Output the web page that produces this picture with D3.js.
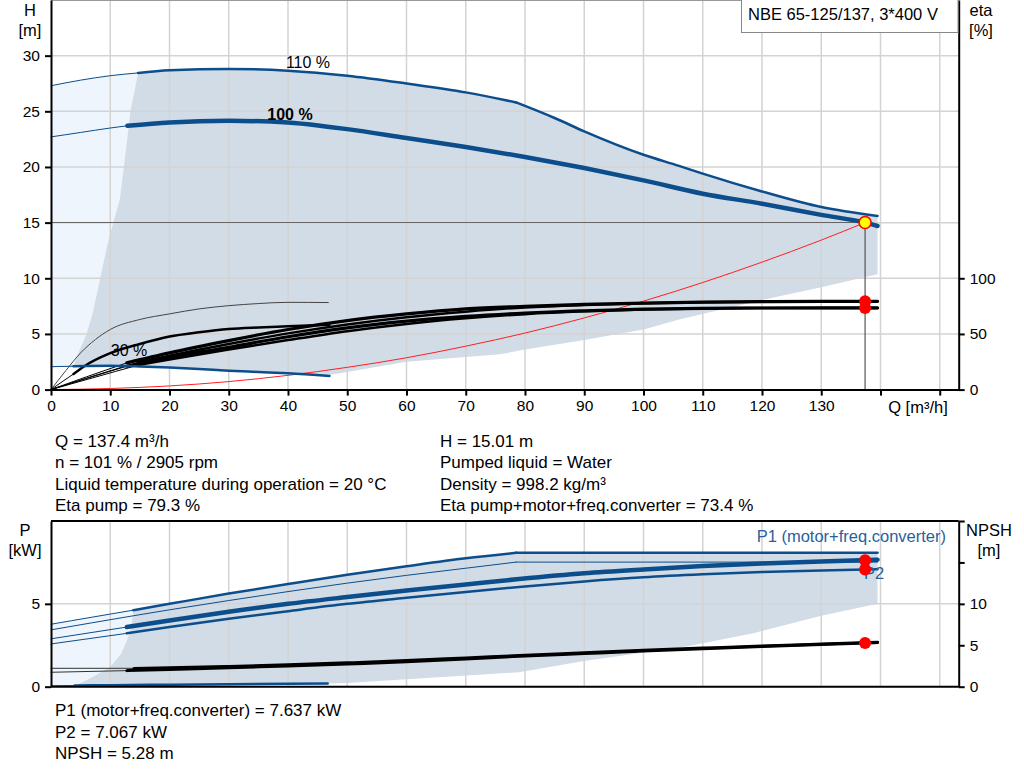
<!DOCTYPE html>
<html>
<head>
<meta charset="utf-8">
<script src="https://cdn.jsdelivr.net/npm/d3@7"></script>
<style>
body { margin: 0; background: #fff; }
svg text { font-family: "Liberation Sans", Arial, sans-serif; font-size: 16.5px; fill: #000; }
svg .tick text { font-size: 15.5px; }
svg .info { font-size: 17px; }
</style>
</head>
<body>
<div id="chart"></div>
<script>
// ticks
var qTicks = [0, 10, 20, 30, 40, 50, 60, 70, 80, 90, 100, 110, 120, 130, 140, 150];
var hTicks = [0, 5, 10, 15, 20, 25, 30];
var etaTicks = [0, 50, 100];
var pTicks = [0, 5];
var npshTicks = [0, 5, 10, 15, 20];

// H curves [Q, H]
var h110Thin = [[0, 27.3], [5, 27.8], [10, 28.2], [14.7, 28.45]];
var h110 = [[14.7, 28.45], [20, 28.7], [30, 28.8], [40, 28.65], [50, 28.2], [60, 27.5], [70, 26.7], [78.5, 25.8]];
var h110Limit = [[78.5, 25.8], [85, 24.4], [90, 23.2], [100, 21.1], [106, 20.1], [110, 19.4], [120, 17.8], [130, 16.4], [139.5, 15.6]];
var h100Thin = [[0, 22.7], [5, 23.1], [10, 23.5], [12.9, 23.7]];
var h100 = [[12.9, 23.7], [20, 24.0], [30, 24.15], [40, 24.0], [47, 23.6], [50, 23.4], [60, 22.6], [70, 21.8], [80, 20.9], [90, 19.9], [100, 18.8], [110, 17.6], [120, 16.7], [130, 15.7], [137.4, 15.0], [139.5, 14.7]];
var h30Thin = [[0, 2.06], [3.8, 2.1]];
var h30 = [[3.8, 2.1], [10, 2.14], [15, 2.08], [20, 1.98], [25, 1.85], [30, 1.7], [35, 1.58], [40, 1.46], [47, 1.22]];
var shadeLeftH = [[3.8, 2.1], [5, 3.8], [6, 5], [7, 6.8], [8.3, 10], [9.5, 13], [10.5, 15], [11.6, 17.1], [12.3, 20], [13.4, 25], [14.7, 28.45]];
var shadeLowerH = [[139.5, 10.36], [130, 9.2], [120, 8.05], [106, 6.3], [100, 5.4], [90, 4.46], [80, 3.6], [75.8, 3.17], [60, 2.5], [47, 1.31]];
var sysCurve = [[0, 0], [10, 0.1], [20, 0.33], [30, 0.72], [40, 1.28], [50, 2.0], [60, 2.86], [70, 3.9], [80, 5.08], [90, 6.44], [100, 7.95], [110, 9.62], [120, 11.45], [130, 13.43], [137.4, 15.01]];

// eta curves [Q, eta]
var eta30PumpThin = [[0, 0], [2.5, 17], [5, 33], [7.5, 45], [10, 54], [15, 63], [20, 68], [25, 72.5], [30, 75.4], [35, 77.3], [40, 78.4], [46.8, 78.2]];
var eta30Thin = [[0, 0], [2, 7.5], [3.8, 14]];
var eta30 = [[3.8, 14], [5.5, 20.6], [10, 32.7], [15, 41], [20, 47.7], [25, 51.5], [30, 54.4], [35, 55.8], [40, 56.8], [47, 58.2]];
var etaPump100Thin = [[0, 0], [6, 11.5], [12.8, 24]];
var etaPump100 = [[12.8, 24], [20, 33], [30, 44], [40, 54], [50, 62], [60, 68], [70, 72.5], [80, 74.8], [90, 76.5], [100, 77.7], [110, 78.5], [120, 79], [130, 79.3], [139.5, 79.3]];
var etaTot100Thin = [[0, 0], [6, 10], [12.8, 21]];
var etaTot100 = [[12.8, 21], [20, 29], [30, 38], [40, 47.5], [50, 55.5], [60, 61.5], [70, 65.8], [80, 68.8], [90, 70.8], [100, 72.3], [110, 73], [120, 73.3], [130, 73.4], [139.5, 73.4]];
var etaPump110Thin = [[0, 0], [7, 12], [14.7, 24.5]];
var etaPump110 = [[14.7, 24.5], [20, 30.5], [30, 41], [40, 50.5], [50, 58.5], [60, 65], [70, 70], [80, 73.8], [90, 76], [100, 77.5], [110, 78.4], [120, 79], [130, 79.3], [139.5, 79.3]];
var etaTot110Thin = [[0, 0], [7, 10.5], [14.7, 22]];
var etaTot110 = [[14.7, 22], [20, 27], [30, 36], [40, 44.5], [50, 52.5], [60, 59], [70, 64], [80, 67.8], [90, 70.3], [100, 72], [110, 72.9], [120, 73.3], [130, 73.4], [139.5, 73.4]];

// power curves [Q, P kW]
var p1_110Thin = [[0, 3.77], [7, 4.2], [13.9, 4.62]];
var p1_110 = [[13.9, 4.62], [20, 5.0], [30, 5.62], [40, 6.2], [50, 6.76], [60, 7.27], [70, 7.75], [78.5, 8.08]];
var p1_110Limit = [[78.5, 8.08], [139.5, 8.08]];
var p2_110Thin = [[0, 3.43], [13.9, 4.28], [20, 4.64], [30, 5.2], [40, 5.74], [50, 6.25], [60, 6.72], [70, 7.15], [78.5, 7.52]];
var p2_110Limit = [[78.5, 7.52], [139.5, 7.52]];
var p1_100Thin = [[0, 2.89], [12.8, 3.6]];
var p1_100 = [[12.8, 3.6], [20, 4.0], [30, 4.52], [40, 5.0], [50, 5.41], [60, 5.8], [70, 6.17], [79, 6.5], [90, 6.85], [100, 7.08], [110, 7.28], [120, 7.44], [130, 7.56], [139.5, 7.66]];
var p2_100Thin = [[0, 2.58], [12.8, 3.22]];
var p2_100 = [[12.8, 3.22], [20, 3.6], [30, 4.1], [40, 4.56], [50, 5.0], [60, 5.37], [70, 5.72], [79, 6.02], [90, 6.35], [100, 6.6], [110, 6.78], [120, 6.92], [130, 7.02], [139.5, 7.09]];
var p30Thin = [[0, 0.06], [4, 0.07]];
var p30 = [[4, 0.07], [10, 0.09], [20, 0.12], [30, 0.15], [40, 0.18], [46.7, 0.2]];
var shadeLeftP = [[4.3, 0.08], [7.1, 0.6], [10, 1.21], [11.9, 2.02], [13.3, 3.23], [13.7, 4.0], [13.9, 4.62]];
var shadeLowerP = [[139.5, 5.0], [130, 4.28], [118.5, 3.23], [107.3, 2.42], [90, 1.55], [79, 0.87], [60, 0.45], [50, 0.22], [46.7, 0.2]];

// NPSH curves [Q, m]
var npsh100Thin = [[0, 1.74], [12.8, 1.94]];
var npsh100 = [[12.8, 1.94], [20, 2.08], [30, 2.3], [40, 2.5], [50, 2.74], [60, 3.0], [70, 3.35], [80, 3.7], [90, 4.0], [100, 4.3], [110, 4.58], [120, 4.85], [130, 5.1], [139.5, 5.32]];
var npsh110Thin = [[0, 2.22], [14, 2.22]];
var npsh110 = [[14, 2.2], [20, 2.28], [30, 2.45], [40, 2.64], [50, 2.88], [60, 3.15], [70, 3.47], [80, 3.8], [90, 4.1], [100, 4.4], [110, 4.66], [120, 4.92], [130, 5.15], [139.5, 5.36]];

// operating point
var opQ = 137.4, opH = 15.01, opEtaPump = 79.3, opEtaTot = 73.4, opP1 = 7.637, opP2 = 7.067, opNpsh = 5.28;

var infoLeft = ["Q = 137.4 m³/h", "n = 101 % / 2905 rpm", "Liquid temperature during operation = 20 °C", "Eta pump = 79.3 %"];
var infoRight = ["H = 15.01 m", "Pumped liquid = Water", "Density = 998.2 kg/m³", "Eta pump+motor+freq.converter = 73.4 %"];
var infoBottom = ["P1 (motor+freq.converter) = 7.637 kW", "P2 = 7.067 kW", "NPSH = 5.28 m"];

(function() {
  var svg, x, yH, yEta, yP, yN, top, bot, blue, dark, light, grid, line, drawLine, drawAxis;

  blue = '#0c4d8c';
  dark = '#d1dce7';
  light = '#eef5fc';
  grid = '#d3d3d3';

  svg = d3.select('#chart').append('svg').attr('width', 1024).attr('height', 781);

  x = d3.scaleLinear().domain([0, 153.2]).range([51, 958.7]);
  yH = d3.scaleLinear().domain([0, 35]).range([389.6, 0]);
  yEta = d3.scaleLinear().domain([0, 350]).range([389.6, 0]);
  yP = d3.scaleLinear().domain([0, 10]).range([686.7, 521]);
  yN = d3.scaleLinear().domain([0, 20]).range([686.7, 521]);

  top = svg.append('g');
  bot = svg.append('g');

  line = function(ys, curve) {
    return d3.line().x(function(d) { return x(d[0]); }).y(function(d) { return ys(d[1]); }).curve(curve || d3.curveMonotoneX);
  };

  drawLine = function(g, data, ys, color, width, curve) {
    return g.append('path').datum(data).attr('d', line(ys, curve)).attr('fill', 'none')
      .attr('stroke', color).attr('stroke-width', width).attr('stroke-linecap', 'round').attr('stroke-linejoin', 'round');
  };

  // ---- top chart fills
  top.append('path').datum(h110Thin.concat(shadeLeftH.slice().reverse(), h30Thin.slice().reverse()))
    .attr('d', line(yH, d3.curveLinear)).attr('fill', light);
  top.append('path').datum(h110.concat(h110Limit, shadeLowerH, h30.slice().reverse(), shadeLeftH))
    .attr('d', line(yH, d3.curveLinear)).attr('fill', dark);

  // grid
  qTicks.slice(1).forEach(function(q) {
    top.append('line').attr('x1', x(q)).attr('x2', x(q)).attr('y1', 0).attr('y2', 389.6).attr('stroke', grid).attr('stroke-width', 1.5);
    bot.append('line').attr('x1', x(q)).attr('x2', x(q)).attr('y1', 521).attr('y2', 686.7).attr('stroke', grid).attr('stroke-width', 1.5);
  });
  hTicks.slice(1).forEach(function(h) {
    top.append('line').attr('x1', 51).attr('x2', 958.7).attr('y1', yH(h)).attr('y2', yH(h)).attr('stroke', grid).attr('stroke-width', 1.5);
  });
  top.append('line').attr('x1', 51).attr('x2', 958.7).attr('y1', 0.5).attr('y2', 0.5).attr('stroke', '#999');

  // operating lines
  top.append('line').attr('x1', x(0)).attr('x2', x(opQ)).attr('y1', yH(opH)).attr('y2', yH(opH)).attr('stroke', '#666').attr('stroke-width', 1.2);
  top.append('line').attr('x1', x(opQ)).attr('x2', x(opQ)).attr('y1', yH(opH)).attr('y2', yH(0)).attr('stroke', '#555').attr('stroke-width', 1.2);

  // system curve
  drawLine(top, sysCurve, yH, '#ff2020', 1);

  // eta curves
  drawLine(top, eta30PumpThin, yEta, '#444', 1);
  drawLine(top, eta30Thin, yEta, '#000', 1);
  drawLine(top, eta30, yEta, '#000', 2.5);
  drawLine(top, etaPump110Thin, yEta, '#000', 1);
  drawLine(top, etaTot110Thin, yEta, '#000', 1);
  drawLine(top, etaPump100Thin, yEta, '#000', 1);
  drawLine(top, etaTot100Thin, yEta, '#000', 1);
  drawLine(top, etaPump110, yEta, '#000', 2.5);
  drawLine(top, etaTot110, yEta, '#000', 2.5);
  drawLine(top, etaPump100, yEta, '#000', 3.2);
  drawLine(top, etaTot100, yEta, '#000', 3.2);

  // H curves
  drawLine(top, h30Thin, yH, blue, 1);
  drawLine(top, h30, yH, blue, 2.5);
  drawLine(top, h110Thin, yH, blue, 1);
  drawLine(top, h110, yH, blue, 2.5);
  drawLine(top, h110Limit, yH, blue, 2.5);
  drawLine(top, h100Thin, yH, blue, 1);
  drawLine(top, h100, yH, blue, 4.5);

  // curve labels
  top.append('text').attr('x', 308).attr('y', 67.5).attr('text-anchor', 'middle').style('font-size', '16px').text('110 %');
  top.append('text').attr('x', 290).attr('y', 119.5).attr('text-anchor', 'middle').style('font-size', '16px').style('font-weight', 'bold').text('100 %');
  top.append('text').attr('x', 129).attr('y', 355.5).attr('text-anchor', 'middle').style('font-size', '16px').text('30 %');

  // operating markers
  [opEtaPump, opEtaTot].forEach(function(v) {
    top.append('circle').attr('cx', x(opQ)).attr('cy', yEta(v)).attr('r', 6).attr('fill', '#ff0000');
  });
  top.append('circle').attr('cx', x(opQ)).attr('cy', yH(opH)).attr('r', 6).attr('fill', '#ffff00').attr('stroke', '#ff0000').attr('stroke-width', 1.6);

  // axes
  drawAxis = function(g, axis, tx, ty) {
    var a = g.append('g').attr('transform', 'translate(' + tx + ',' + ty + ')').call(axis);
    a.attr('font-size', null).attr('font-family', null);
    a.select('.domain').attr('stroke', '#000').attr('stroke-width', 2);
    a.selectAll('.tick line').attr('stroke', '#000').attr('stroke-width', 2);
    return a;
  };
  drawAxis(top, d3.axisLeft(yH).tickValues(hTicks).tickSize(6).tickSizeOuter(0).tickPadding(5), 51, 0);
  drawAxis(top, d3.axisRight(yEta).tickValues(etaTicks).tickSize(6).tickSizeOuter(0).tickPadding(5), 958.7, 0);
  drawAxis(top, d3.axisBottom(x).tickValues(qTicks).tickSize(6).tickSizeOuter(0).tickPadding(4)
    .tickFormat(function(d) { return d > 130 ? '' : d; }), 0, 389.6);

  top.append('text').attr('x', 30).attr('y', 15.5).attr('text-anchor', 'middle').text('H');
  top.append('text').attr('x', 30).attr('y', 35.5).attr('text-anchor', 'middle').text('[m]');
  top.append('text').attr('x', 981).attr('y', 15.5).attr('text-anchor', 'middle').text('eta');
  top.append('text').attr('x', 981).attr('y', 35.5).attr('text-anchor', 'middle').text('[%]');
  top.append('text').attr('x', 918).attr('y', 412.5).attr('text-anchor', 'middle').text('Q [m³/h]');

  // title box
  top.append('rect').attr('x', 741.5).attr('y', -1).attr('width', 216.5).attr('height', 33.5).attr('fill', '#fff').attr('stroke', '#888');
  top.append('text').attr('x', 748).attr('y', 19.5).text('NBE 65-125/137, 3*400 V');

  // info text
  infoLeft.forEach(function(t, i) {
    svg.append('text').attr('class', 'info').attr('x', 55).attr('y', 447 + i * 21.3).text(t);
  });
  infoRight.forEach(function(t, i) {
    svg.append('text').attr('class', 'info').attr('x', 440).attr('y', 447 + i * 21.3).text(t);
  });
  infoBottom.forEach(function(t, i) {
    svg.append('text').attr('class', 'info').attr('x', 55).attr('y', 716 + i * 21.5).text(t);
  });

  // ---- bottom chart fills
  bot.insert('path', ':first-child').datum(p1_110.concat(p1_110Limit, shadeLowerP, p30.slice().reverse(), shadeLeftP))
    .attr('d', line(yP, d3.curveLinear)).attr('fill', dark);
  bot.insert('path', ':first-child').datum(p1_110Thin.concat(shadeLeftP.slice().reverse(), p30Thin.slice().reverse()))
    .attr('d', line(yP, d3.curveLinear)).attr('fill', light);
  bot.append('line').attr('x1', 51).attr('x2', 958.7).attr('y1', yP(5)).attr('y2', yP(5)).attr('stroke', grid).attr('stroke-width', 1.5);

  // NPSH curves
  drawLine(bot, npsh110Thin, yN, '#333', 1);
  drawLine(bot, npsh100Thin, yN, '#333', 1);
  drawLine(bot, npsh110, yN, '#000', 3);
  drawLine(bot, npsh100, yN, '#000', 3);

  // power curves
  drawLine(bot, p30Thin, yP, blue, 1);
  drawLine(bot, p30, yP, blue, 2.5);
  drawLine(bot, p1_110Thin, yP, blue, 1);
  drawLine(bot, p1_110, yP, blue, 2.5);
  drawLine(bot, p1_110Limit, yP, blue, 2.5);
  drawLine(bot, p2_110Thin, yP, blue, 1);
  drawLine(bot, p2_110Limit, yP, blue, 1);
  drawLine(bot, p1_100Thin, yP, blue, 1);
  drawLine(bot, p1_100, yP, blue, 4.5);
  drawLine(bot, p2_100Thin, yP, blue, 1);
  drawLine(bot, p2_100, yP, blue, 2.5);

  bot.append('text').attr('x', 946).attr('y', 542).attr('text-anchor', 'end').style('fill', '#2a5f9e').text('P1 (motor+freq.converter)');
  bot.append('text').attr('x', 864).attr('y', 578.5).style('fill', '#2a5f9e').text('P2');

  [[opP1, yP], [opP2, yP], [opNpsh, yN]].forEach(function(d) {
    bot.append('circle').attr('cx', x(opQ)).attr('cy', d[1](d[0])).attr('r', 6).attr('fill', '#ff0000');
  });

  // bottom axes and frame
  bot.append('line').attr('x1', 51).attr('x2', 958.7).attr('y1', 521).attr('y2', 521).attr('stroke', '#000').attr('stroke-width', 2);
  bot.append('line').attr('x1', 51).attr('x2', 958.7).attr('y1', 686.7).attr('y2', 686.7).attr('stroke', '#000').attr('stroke-width', 2);
  drawAxis(bot, d3.axisLeft(yP).tickValues(pTicks).tickSize(6).tickSizeOuter(0).tickPadding(5), 51, 0);
  drawAxis(bot, d3.axisRight(yN).tickValues(npshTicks).tickSize(6).tickSizeOuter(0).tickPadding(5)
    .tickFormat(function(d) { return d > 10 ? '' : d; }), 958.7, 0);

  bot.append('text').attr('x', 25).attr('y', 536).attr('text-anchor', 'middle').text('P');
  bot.append('text').attr('x', 25).attr('y', 556).attr('text-anchor', 'middle').text('[kW]');
  bot.append('text').attr('x', 989).attr('y', 536).attr('text-anchor', 'middle').text('NPSH');
  bot.append('text').attr('x', 989).attr('y', 556).attr('text-anchor', 'middle').text('[m]');
})();
</script>
</body>
</html>
